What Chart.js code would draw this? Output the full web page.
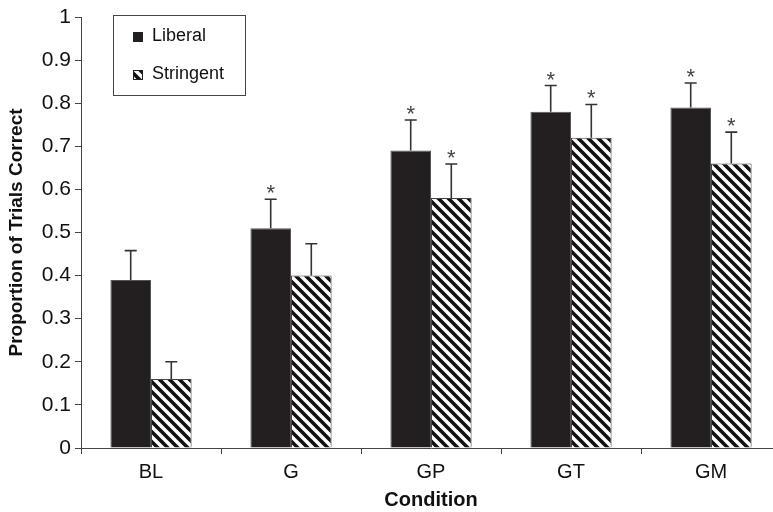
<!DOCTYPE html>
<html>
<head>
<meta charset="utf-8">
<script src="https://cdn.jsdelivr.net/npm/chart.js@4"></script>
<style>
  html, body { margin: 0; padding: 0; background: #fff; overflow: hidden; }
  #wrap { width: 790px; height: 512px; position: relative; }
</style>
</head>
<body>
<div id="wrap"><canvas id="chart_pc" width="790" height="512"></canvas></div>
<script>
const ctx_pc = 'chart_pc';

var cValues = ["BL", "G", "GP", "GT", "GM"];
var liberal = [0.39, 0.51, 0.69, 0.78, 0.79];
var stringent = [0.16, 0.40, 0.58, 0.72, 0.66];
var liberalErr = [0.068, 0.067, 0.071, 0.061, 0.057];
var stringentErr = [0.040, 0.074, 0.079, 0.077, 0.073];
var liberalSig = [false, true, true, true, true];
var stringentSig = [false, false, true, true, true];
var yTicks = [0, 0.1, 0.2, 0.3, 0.4, 0.5, 0.6, 0.7, 0.8, 0.9, 1];
var yLabels = ["0", "0.1", "0.2", "0.3", "0.4", "0.5", "0.6", "0.7", "0.8", "0.9", "1"];

const FONT = "'Liberation Sans', Arial, sans-serif";

// diagonal stripe pattern for the Stringent bars
function stripes() {
    const c = document.createElement('canvas');
    c.width = 10; c.height = 10;
    const g = c.getContext('2d');
    g.fillStyle = '#fff';
    g.fillRect(0, 0, 10, 10);
    g.strokeStyle = '#111';
    g.lineWidth = 3.6;
    g.beginPath();
    g.moveTo(-5, 5); g.lineTo(5, 15);
    g.moveTo(0, 0); g.lineTo(10, 10);
    g.moveTo(5, -5); g.lineTo(15, 5);
    g.stroke();
    return g.createPattern(c, 'repeat');
}
const stripeFill = stripes();

// upper error bars + asterisks
const errorBars = {
    id: 'errorBars',
    afterDatasetsDraw(chart) {
        const g = chart.ctx;
        const y = chart.scales.y;
        const errs = [liberalErr, stringentErr];
        const sigs = [liberalSig, stringentSig];
        g.save();
        chart.data.datasets.forEach((ds, di) => {
            chart.getDatasetMeta(di).data.forEach((bar, i) => {
                const top = y.getPixelForValue(ds.data[i] + errs[di][i]);
                g.strokeStyle = '#333';
                g.lineWidth = 1.6;
                g.beginPath();
                g.moveTo(bar.x, bar.y);
                g.lineTo(bar.x, top);
                g.moveTo(bar.x - 6, top);
                g.lineTo(bar.x + 6, top);
                g.stroke();
                if (sigs[di][i]) {
                    g.fillStyle = '#444';
                    g.font = '22px ' + FONT;
                    g.textAlign = 'center';
                    g.textBaseline = 'alphabetic';
                    g.fillText('*', bar.x, top + 1);
                }
            });
        });
        g.restore();
    }
};

// boxed legend in the top-left corner
const boxLegend = {
    id: 'boxLegend',
    afterDraw(chart) {
        const g = chart.ctx;
        g.save();
        g.strokeStyle = '#444';
        g.lineWidth = 1;
        g.strokeRect(113.5, 15.5, 132, 80);
        chart.data.datasets.forEach((ds, di) => {
            const cy = 36 + di * 38;
            g.fillStyle = ds.backgroundColor;
            g.fillRect(133, cy - 4, 10, 10);
            g.strokeStyle = '#222';
            g.strokeRect(133.5, cy - 3.5, 9, 9);
            g.fillStyle = '#111';
            g.font = '18px ' + FONT;
            g.textAlign = 'left';
            g.textBaseline = 'middle';
            g.fillText(ds.label, 152, cy);
        });
        g.restore();
    }
};

const chart_pc = new Chart(ctx_pc, {
    type: 'bar',
    data: {
        labels: cValues,
        datasets: [{
            label: 'Liberal',
            data: liberal,
            backgroundColor: '#231f20',
            borderColor: '#555',
            borderWidth: 1,
            barPercentage: 1,
            categoryPercentage: 0.58
        }, {
            label: 'Stringent',
            data: stringent,
            backgroundColor: stripeFill,
            borderColor: '#444',
            borderWidth: 1,
            barPercentage: 1,
            categoryPercentage: 0.58
        }]
    },
    options: {
        responsive: false,
        animation: false,
        devicePixelRatio: 1,
        layout: { padding: { top: 17, right: 9, left: 0, bottom: 0 } },
        plugins: {
            legend: { display: false },
            tooltip: { enabled: false }
        },
        scales: {
            x: {
                grid: { display: true, offset: true, drawOnChartArea: false, tickLength: 6, color: '#444' },
                border: { color: '#444', width: 1 },
                ticks: { color: '#111', font: { family: FONT, size: 20 }, padding: 6 },
                title: { display: true, text: 'Condition', color: '#111', font: { family: FONT, size: 20, weight: 'bold' }, padding: { top: 4, bottom: 0 } },
                afterFit(s) { s.height = 64; }
            },
            y: {
                min: 0,
                max: 1,
                afterBuildTicks(s) { s.ticks = yTicks.map(v => ({ value: v })); },
                grid: { display: true, drawOnChartArea: false, tickLength: 6, color: '#444' },
                border: { color: '#444', width: 1 },
                ticks: { color: '#111', font: { family: FONT, size: 21 }, padding: 4, callback: (v, i) => yLabels[i] },
                title: { display: true, text: 'Proportion of Trials Correct', color: '#111', font: { family: FONT, size: 19, weight: 'bold' }, padding: 5 },
                afterFit(s) { s.width = 81; }
            }
        }
    },
    plugins: [errorBars, boxLegend]
});
</script>
</body>
</html>
